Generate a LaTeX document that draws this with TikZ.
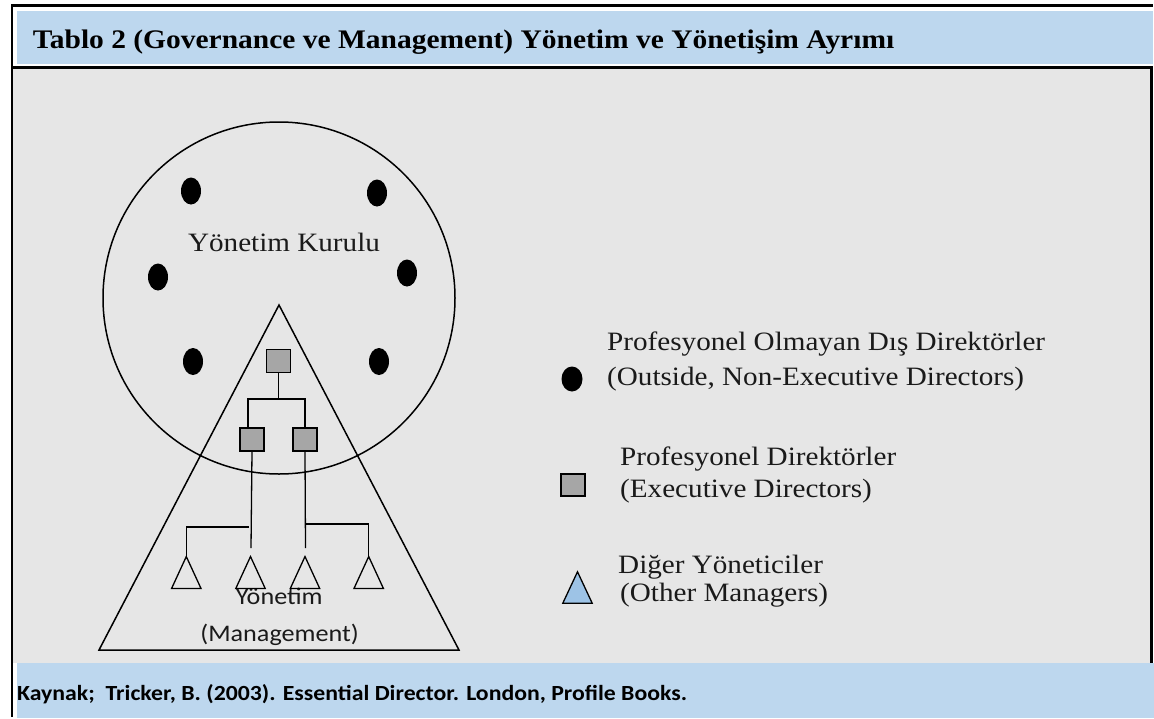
\documentclass[tikz,border=0pt]{standalone}
\usepackage{fontspec}
\setmainfont[FakeStretch=1.1]{Liberation Serif}
\newfontfamily\calib[FakeStretch=1.1]{Carlito}
\usetikzlibrary{shapes.geometric,calc}
\definecolor{bgray}{HTML}{E6E6E6}
\definecolor{hblue}{HTML}{BDD7EE}
\definecolor{sqgray}{HTML}{A6A6A6}
\definecolor{triblue}{HTML}{9DC3E6}
\definecolor{txt}{HTML}{1A1A1A}
\tikzset{
  dot/.style={ellipse, fill=black, minimum width=20pt, minimum height=27pt, inner sep=0pt},
  exec/.style={draw=black, fill=sqgray, line width=1.5pt, minimum width=24pt, minimum height=23pt, inner sep=0pt},
  slot/.style={minimum width=29pt, minimum height=31.5pt, inner sep=0pt},
  tri/.style={draw=black, line width=1.3pt},
  conn/.style={draw=black, line width=1.3pt},
  legtext/.style={anchor=base west, inner sep=0pt, text=txt, font=\fontsize{26.5}{30}\selectfont},
  frame/.style={draw=black, line width=3pt}
}
\begin{document}
\begin{tikzpicture}[x=1pt,y=-1pt]
\useasboundingbox (0,0) rectangle (1154,718);
\fill[white] (0,0) rectangle (1154,718);
% panels
\fill[bgray] (12,66) rectangle (1151,663);
\fill[hblue] (17,11) rectangle (1153,64);
\fill[hblue] (17,663) rectangle (1154,718);
\draw[frame] (11,5.5) -- (1153,5.5);
\draw[frame] (11,67) -- (1152,67);
\draw[frame] (1151.5,66) -- (1151.5,663);
\draw[black, line width=2pt] (12,4.5) -- (12,717);
% title and source
\node[anchor=base west, inner sep=0pt] (title) at (32.7,48.3)
  {\fontsize{26.8}{30}\selectfont\bfseries Tablo 2 (Governance ve Management) Yönetim ve Yönetişim Ayrımı};
\node[anchor=base west, inner sep=0pt] (source) at (17,700)
  {\calib\fontsize{21.6}{26}\selectfont\bfseries Kaynak;\ \ Tricker, B. (2003). Essential Director. London, Profile Books.};
% board circle
\node[draw=black, circle, line width=1.5pt, minimum size=352pt, inner sep=0pt] (board) at (279,298) {};
\node[anchor=base, inner sep=0pt, text=txt, font=\fontsize{26.5}{30}\selectfont] (boardlabel) at (284,251) {Yönetim Kurulu};
\node[dot] (d1) at (191,191) {};
\node[dot] (d2) at (377,193) {};
\node[dot] (d3) at (158,277) {};
\node[dot] (d4) at (407,273) {};
\node[dot] (d5) at (193,361.5) {};
\node[dot] (d6) at (379,361.5) {};
% management triangle
\coordinate (apex) at (279,305);
\coordinate (bl) at (99,650);
\coordinate (br) at (459,650);
\draw[tri, line width=1.5pt] (bl) -- (apex) -- (br) -- cycle;
\node[anchor=base, inner sep=0pt, text=txt, font=\calib\fontsize{23.8}{28}\selectfont] (mgmt1) at (279.3,604.3) {Yönetim};
\node[anchor=base, inner sep=0pt, text=txt, font=\calib\fontsize{23.8}{28}\selectfont] (mgmt2) at (279.6,641) {(Management)};
% executive squares
\node[exec] (s1) at (278.5,361) {};
\node[exec] (s2) at (252,439.5) {};
\node[exec] (s3) at (305,439.5) {};
\coordinate (j1) at (278.5,399);
\draw[conn] (s1.south) -- (j1);
\draw[conn] (j1) -| ($(s2.north)+(-4,0)$);
\draw[conn] (j1) -| (s3.north);
% other managers
\node[slot] (t1) at (186.3,572.5) {};
\node[slot] (t2) at (250.5,572.5) {};
\node[slot] (t3) at (305,572.5) {};
\node[slot] (t4) at (368.7,572.5) {};
\foreach \t in {t1,t2,t3,t4}{
  \draw[tri] (\t.south west) -- (\t.north) -- (\t.south east) -- cycle;
}
\coordinate (a2) at (251,548);
\coordinate (a3) at (305.5,548);
\draw[conn] (s2.south) -- (a2);
\draw[conn] (s3.south) -- (a3);
\draw[conn] (t1.north) |- (248.5,527);
\draw[conn] (305.5,524) -| (t4.north);
% legend
\node[dot, minimum width=21pt, minimum height=25pt] (ldot) at (572,379) {};
\node[legtext] (l1a) at (607,350.5) {Profesyonel Olmayan Dış Direktörler};
\node[legtext] (l1b) at (607,385) {(Outside, Non-Executive Directors)};
\node[exec, minimum width=24pt, minimum height=22pt] (lsq) at (573,485) {};
\node[legtext] (l2a) at (620,465) {Profesyonel Direktörler};
\node[legtext] (l2b) at (620,497) {(Executive Directors)};
\node[slot, minimum width=29pt, minimum height=31pt] (ltri) at (577.5,587.5) {};
\draw[tri, fill=triblue] (ltri.south west) -- (ltri.north) -- (ltri.south east) -- cycle;
\node[legtext] (l3a) at (618,573.3) {Diğer Yöneticiler};
\node[legtext] (l3b) at (620,601.7) {(Other Managers)};
\end{tikzpicture}
\end{document}
